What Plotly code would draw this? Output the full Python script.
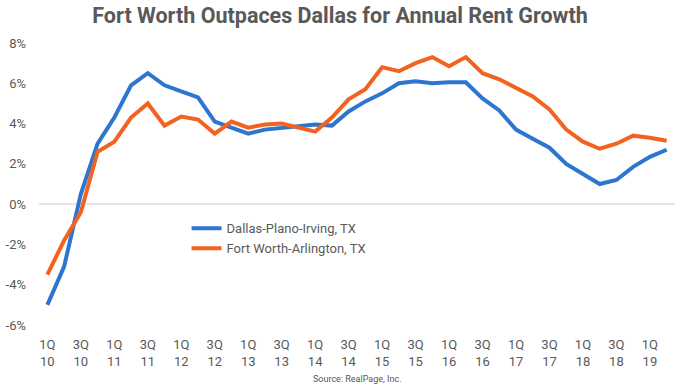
import plotly.graph_objects as go

quarters = [f"{q}Q{y:02d}" for y in range(10, 20) for q in range(1, 5)][:38]

dallas = [-5.0, -3.1, 0.5, 3.0, 4.3, 5.9, 6.5, 5.9, 5.6, 5.3,
          4.1, 3.8, 3.5, 3.7, 3.8, 3.85, 3.95, 3.9, 4.6, 5.1,
          5.5, 6.0, 6.1, 6.0, 6.05, 6.05, 5.25, 4.65, 3.7, 3.25,
          2.8, 2.0, 1.5, 1.0, 1.2, 1.85, 2.35, 2.7]

fort_worth = [-3.5, -1.8, -0.4, 2.6, 3.1, 4.3, 5.0, 3.9, 4.35, 4.2,
              3.5, 4.1, 3.8, 3.95, 4.0, 3.82, 3.6, 4.3, 5.2, 5.7,
              6.8, 6.6, 7.0, 7.3, 6.85, 7.3, 6.5, 6.2, 5.8, 5.35,
              4.7, 3.7, 3.1, 2.75, 3.0, 3.4, 3.3, 3.15]

tick_vals = quarters[::2]
tick_text = [f"{c[:2]}<br>{c[2:]}" for c in tick_vals]
y_ticks = [-6, -4, -2, 0, 2, 4, 6, 8]
y_text = [f"{v}%" for v in y_ticks]

fig = go.Figure()
fig.add_trace(go.Scatter(x=quarters, y=dallas, mode="lines", name="Dallas-Plano-Irving, TX",
                         line=dict(color="#2E75CF", width=4)))
fig.add_trace(go.Scatter(x=quarters, y=fort_worth, mode="lines", name="Fort Worth-Arlington, TX",
                         line=dict(color="#F26322", width=4)))

fig.update_layout(
    width=680, height=386,
    margin=dict(l=39, r=5, t=43, b=61),
    paper_bgcolor="white", plot_bgcolor="white",
    font=dict(family="Roboto", color="#595959", size=13),
    title=dict(text="<b>Fort Worth Outpaces Dallas for Annual Rent Growth</b>",
               x=0.5, xanchor="center", y=0.960, yanchor="middle",
               font=dict(size=21.5, color="#595959", family="Roboto")),
    showlegend=True,
    legend=dict(x=0.232, y=0.396, xanchor="left", yanchor="top",
                bgcolor="rgba(0,0,0,0)", font=dict(size=13, color="#595959"),
                tracegroupgap=4),
    annotations=[dict(text="Source: RealPage, Inc.", x=0.5, xref="paper", xanchor="center",
                      y=-0.193, yref="paper", yanchor="middle", showarrow=False,
                      font=dict(size=9, color="#595959"))],
)

fig.update_xaxes(type="category", categoryorder="array", categoryarray=quarters,
                 range=[-0.5, 37.5], tickvals=tick_vals, ticktext=tick_text,
                 showgrid=False, zeroline=False, showline=False, ticks="",
                 tickfont=dict(size=13, color="#595959"), ticklabelstandoff=10,
                 automargin=False)
fig.update_yaxes(range=[-6, 8], tickvals=y_ticks, ticktext=y_text,
                 showgrid=False, zeroline=True, zerolinecolor="#E6E6E6", zerolinewidth=2,
                 showline=False, ticks="", ticklabelstandoff=12,
                 tickfont=dict(size=13, color="#595959"), automargin=False)

fig.write_html("out.html", config={"displayModeBar": False},
               post_script="document.body.style.margin='0';document.body.style.overflow='hidden';")
